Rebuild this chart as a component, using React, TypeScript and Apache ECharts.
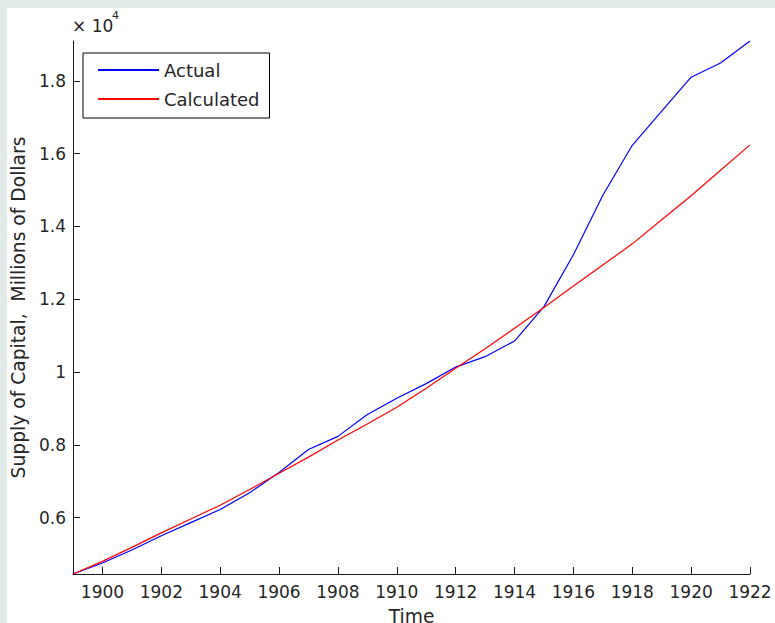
import React, { useEffect, useRef } from "react";
import * as echarts from "echarts";

const years = [1899, 1900, 1901, 1902, 1903, 1904, 1905, 1906, 1907, 1908, 1909, 1910, 1911, 1912, 1913, 1914, 1915, 1916, 1917, 1918, 1919, 1920, 1921, 1922];
const actual = [4449, 4750, 5110, 5500, 5860, 6220, 6680, 7240, 7870, 8230, 8830, 9276, 9680, 10134, 10420, 10850, 11796, 13222, 14854, 16227, 17168, 18099, 18490, 19093];
const calculated = [4449, 4797, 5180, 5579, 5960, 6340, 6770, 7215, 7660, 8130, 8570, 9030, 9550, 10100, 10640, 11200, 11770, 12360, 12940, 13520, 14180, 14840, 15540, 16240];
const xTicks = [1900, 1902, 1904, 1906, 1908, 1910, 1912, 1914, 1916, 1918, 1920, 1922];
const yTicks = [6000, 8000, 10000, 12000, 14000, 16000, 18000];
const seriesNames = ["Actual", "Calculated"];

const FONT = "DejaVu Sans";
const TXT = "#262626";

export default function App() {
  const ref = useRef<HTMLDivElement>(null);
  useEffect(() => {
    if (!ref.current) return;
    const chart = echarts.init(ref.current, null, { renderer: "svg" });
    const pairs = (vals: number[]) => years.map((y, i) => [y, vals[i]]);
    chart.setOption({
      animation: false,
      backgroundColor: "transparent",
      grid: { left: 73, top: 41, right: 25, bottom: 49, containLabel: false, outerBoundsMode: "none" },
      legend: {
        orient: "vertical",
        left: 83,
        top: 53,
        padding: [8, 10, 10, 14],
        itemGap: 11,
        itemWidth: 61,
        itemHeight: 14,
        borderColor: "#000",
        borderWidth: 1,
        borderRadius: 0,
        backgroundColor: "#fff",
        itemStyle: { opacity: 0 },
        data: seriesNames,
        textStyle: { fontFamily: FONT, fontSize: 18, color: TXT },
      },
      xAxis: {
        type: "value",
        min: 1899,
        max: 1922,
        name: "Time",
        nameLocation: "middle",
        nameGap: 33,
        nameTextStyle: { fontFamily: FONT, fontSize: 18.7, color: TXT },
        axisLine: { show: true, onZero: false, lineStyle: { color: "#1a1a1a", width: 1 } },
        axisTick: { show: true, inside: true, length: 7, customValues: xTicks, lineStyle: { color: "#1a1a1a" } },
        axisLabel: { show: true, customValues: xTicks, margin: 9, fontFamily: FONT, fontSize: 17, color: TXT, formatter: (v: number) => String(v) },
        splitLine: { show: false },
      },
      yAxis: {
        type: "value",
        min: 4449,
        max: 19093,
        name: "Supply of Capital,  Millions of Dollars",
        nameLocation: "middle",
        nameGap: 44,
        nameTextStyle: { fontFamily: FONT, fontSize: 18.7, color: TXT },
        axisLine: { show: true, onZero: false, lineStyle: { color: "#1a1a1a", width: 1 } },
        axisTick: { show: true, inside: true, length: 7, customValues: yTicks, lineStyle: { color: "#1a1a1a" } },
        axisLabel: { show: true, customValues: yTicks, margin: 7, fontFamily: FONT, fontSize: 17, color: TXT, formatter: (v: number) => String(v / 10000) },
        splitLine: { show: false },
      },
      graphic: [
        { type: "text", left: 72, top: 17, style: { text: "× 10", font: `17px "${FONT}"`, fill: TXT } },
        { type: "text", left: 112, top: 10, style: { text: "4", font: `11px "${FONT}"`, fill: TXT } },
      ],
      series: [
        { name: seriesNames[0], type: "line", data: pairs(actual), symbol: "none", lineStyle: { color: "#0000ff", width: 1.2 }, itemStyle: { color: "#0000ff" } },
        { name: seriesNames[1], type: "line", data: pairs(calculated), symbol: "none", lineStyle: { color: "#ff0000", width: 1.2 }, itemStyle: { color: "#ff0000" } },
      ],
    });
    return () => chart.dispose();
  }, []);
  return (
    <div style={{ position: "fixed", left: 0, top: 0, width: 775, height: 623, background: "#e3ebe8", overflow: "hidden" }}>
      <div style={{ position: "absolute", left: 7, top: 8, right: 0, bottom: 0, background: "#fff" }} />
      <div ref={ref} style={{ position: "absolute", left: 0, top: 0, width: 775, height: 623 }} />
    </div>
  );
}
